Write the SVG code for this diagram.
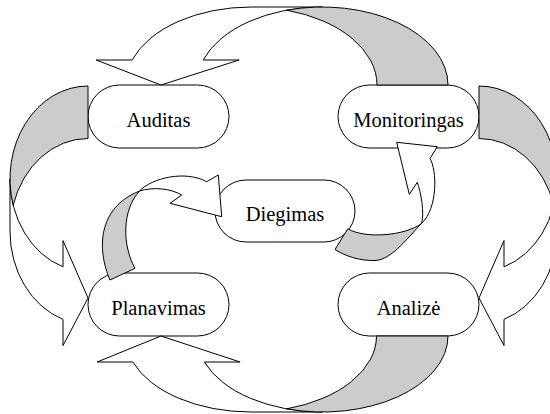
<svg xmlns="http://www.w3.org/2000/svg" width="550" height="414" viewBox="0 0 550 414">
  <style>
    .node rect { fill: #ffffff; stroke: #000000; stroke-width: 1; }
    .node text { font-family: "Liberation Serif", "Times New Roman", serif; font-size: 20.5px; text-anchor: middle; fill: #000000; }
    .front { fill: #ffffff; stroke: #000000; stroke-width: 1; stroke-linejoin: miter; }
    .back { fill: #cccccc; stroke: #000000; stroke-width: 1; stroke-linejoin: miter; }
  </style>
  <rect x="0" y="0" width="550" height="414" fill="#ffffff"/>

  <g id="node-auditas" class="node">
    <rect x="88" y="85" width="141" height="63" rx="31.5" ry="31.5"/>
    <text x="158.5" y="127">Auditas</text>
  </g>
  <g id="node-monitoringas" class="node">
    <rect x="338" y="85" width="141" height="63" rx="31.5" ry="31.5"/>
    <text x="408.5" y="127">Monitoringas</text>
  </g>
  <g id="node-diegimas" class="node">
    <rect x="215" y="180" width="140" height="62" rx="31" ry="31"/>
    <text x="285" y="221">Diegimas</text>
  </g>
  <g id="node-planavimas" class="node">
    <rect x="88" y="273" width="141" height="63" rx="31.5" ry="31.5"/>
    <text x="158.5" y="315">Planavimas</text>
  </g>
  <g id="node-analize" class="node">
    <rect x="338" y="273" width="141" height="63" rx="31.5" ry="31.5"/>
    <text x="408.5" y="315">Analizė</text>
  </g>

  <g id="connectors">
    <g id="arrow-monitoringas-auditas">
      <path class="front" d="M161,85 L239.13,60 L203.13,60 A125.75,78 0 0 1 322.25,7 L251.25,7 A125.75,78 0 0 0 132.13,60 L96.13,60 Z"/>
      <path class="back" d="M286.75,10.17 A125.75,78 0 0 1 377,85 L448,85 A125.75,78 0 0 0 286.75,10.17 Z"/>
    </g>
    <g id="arrow-auditas-planavimas">
      <path class="front" d="M88,298 L63,240.6 L63,266.85 A78,92.88 0 0 1 10,178.88 L10,231.38 A78,92.88 0 0 0 63,319.35 L63,345.6 Z"/>
      <path class="back" d="M13.18,205.13 A78,92.88 0 0 1 88,138.5 L88,86 A78,92.88 0 0 0 13.18,205.13 Z"/>
    </g>
    <g id="arrow-monitoringas-analize">
      <path class="front" d="M479,298 L504,240.6 L504,266.85 A78,92.88 0 0 0 557,178.88 L557,231.38 A78,92.88 0 0 1 504,319.35 L504,345.6 Z"/>
      <path class="back" d="M553.82,205.13 A78,92.88 0 0 0 479,138.5 L479,86 A78,92.88 0 0 1 553.82,205.13 Z"/>
    </g>
    <g id="arrow-analize-planavimas">
      <path class="front" d="M161,336 L240.08,362 L204.33,362 A125.63,76 0 0 0 322.38,412 L250.88,412 A125.63,76 0 0 1 132.83,362 L97.08,362 Z"/>
      <path class="back" d="M286.63,408.86 A125.63,76 0 0 0 376.5,336 L448,336 A125.63,76 0 0 1 286.63,408.86 Z"/>
    </g>
    <g id="arrow-planavimas-diegimas">
      <path class="back" d="M110,280 C97,250 97,208 139.5,191 C122,210 122,245 135,268.3 Z"/>
      <path class="front" d="M139.5,191 C152,178 185,170 206.7,181.7 L218.3,175 L221.7,216.7 L170,203.3 L181.7,195 C170,188 152,187 139.5,191 Z"/>
    </g>
    <g id="arrow-diegimas-monitoringas">
      <path class="back" d="M421.7,223.3 C410,235 392,260 375,260.5 C360,261 345,256 335,249.5 L347.8,228.8 C365,239 405,236 421.7,223.3 Z"/>
      <path class="front" d="M430,158.5 L437.3,146.7 L396.7,142.3 L409.3,194.3 L417.3,182.3 C421,193 424.5,212 421.7,223.3 C438,208 437,170 430,158.5 Z"/>
    </g>
  </g>
</svg>
